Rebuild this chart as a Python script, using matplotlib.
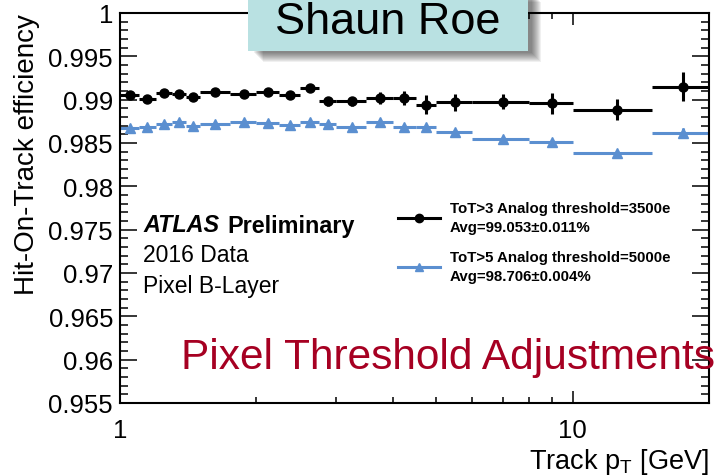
import matplotlib
matplotlib.use('Agg')
import matplotlib.pyplot as plt
from matplotlib.patches import Rectangle
from matplotlib.lines import Line2D

plt.rcParams['font.family'] = ['Liberation Sans', 'DejaVu Sans']

# track pT bin edges [GeV]
pt_edges = [1, 1.1, 1.2, 1.3, 1.4, 1.5, 1.75, 2, 2.25, 2.5, 2.75,
            3, 3.5, 4, 4.5, 5, 6, 8, 10, 15, 20]

# ToT>3, analog threshold 3500e
eff_tot3 = [0.99054, 0.99010, 0.99077, 0.99065, 0.99034, 0.99092, 0.99062,
            0.99085, 0.99054, 0.99135, 0.98981, 0.98981, 0.99019, 0.99016,
            0.98942, 0.98970, 0.98977, 0.98958, 0.98884, 0.99150]
err_tot3 = [0.0002, 0.0002, 0.0002, 0.0002, 0.0002, 0.0002, 0.0002,
            0.0002, 0.0002, 0.0003, 0.0005, 0.0005, 0.0007, 0.0008,
            0.0011, 0.0010, 0.0009, 0.0012, 0.0012, 0.0017]

# ToT>5, analog threshold 5000e
eff_tot5 = [0.98670, 0.98681, 0.98716, 0.98739, 0.98700, 0.98719, 0.98739,
            0.98727, 0.98711, 0.98746, 0.98719, 0.98681, 0.98739, 0.98681,
            0.98681, 0.98630, 0.98543, 0.98508, 0.98385, 0.98615]
err_tot5 = [0.0001, 0.0001, 0.0001, 0.0001, 0.0001, 0.0001, 0.0001,
            0.0001, 0.0001, 0.0001, 0.0001, 0.0001, 0.0001, 0.0001,
            0.0001, 0.0002, 0.0002, 0.0004, 0.0004, 0.0006]

label_tot3 = 'ToT>3 Analog threshold=3500e\nAvg=99.053\u00b10.011%'
label_tot5 = 'ToT>5 Analog threshold=5000e\nAvg=98.706\u00b10.004%'

centers = [(lo + hi) / 2 for lo, hi in zip(pt_edges[:-1], pt_edges[1:])]
xlo = [c - lo for c, lo in zip(centers, pt_edges[:-1])]
xhi = [hi - c for c, hi in zip(centers, pt_edges[1:])]

W, H = 714, 477
fig = plt.figure(figsize=(W / 100, H / 100), dpi=100)
ax = fig.add_axes([120 / W, 1 - 404 / H, 589 / W, 390 / H])

blue = '#5b8fd0'
ax.errorbar(centers, eff_tot5, yerr=err_tot5, xerr=[xlo, xhi], fmt='^',
            color=blue, ms=6.5, elinewidth=2.2, capsize=0)
ax.errorbar(centers, eff_tot3, yerr=err_tot3, xerr=[xlo, xhi], fmt='o',
            color='black', ms=6.5, elinewidth=2.2, capsize=0)

ax.set_xscale('log')
ax.set_xlim(1, 20)
ax.set_ylim(0.955, 1.0)
ax.set_xticks([1, 10])
ax.set_xticklabels(['1', '10'])
ax.set_xticks([2, 3, 4, 5, 6, 7, 8, 9], minor=True)
ax.xaxis.set_minor_formatter(plt.NullFormatter())
yt = [0.955, 0.96, 0.965, 0.97, 0.975, 0.98, 0.985, 0.99, 0.995, 1.0]
ax.set_yticks(yt)
ax.set_yticklabels(['0.955', '0.96', '0.965', '0.97', '0.975', '0.98',
                    '0.985', '0.99', '0.995', '1'])
ax.set_yticks([0.955 + 0.001 * i for i in range(46)], minor=True)

ax.tick_params(which='both', direction='in', top=True, right=True,
               width=1.1, labelsize=18.5)
ax.tick_params(axis='y', which='major', length=12.2, pad=5)
ax.tick_params(axis='y', which='minor', length=6.1)
ax.tick_params(axis='x', which='major', length=8.6, pad=11)
ax.tick_params(axis='x', which='minor', length=4.3)
for s in ax.spines.values():
    s.set_linewidth(1.5)

ax.set_xlabel('Track p$_{\\mathregular{T}}$ [GeV]', fontsize=19.5, loc='right',
              labelpad=2.5)
ax.set_ylabel('Hit-On-Track efficiency', fontsize=20, loc='top', labelpad=6)

handles = [Line2D([], [], color='black', marker='o', ms=6, lw=2.2),
           Line2D([], [], color=blue, marker='^', ms=6, lw=2.2)]
leg = ax.legend(handles, [label_tot3, label_tot5], loc='upper left',
                bbox_to_anchor=(398 / W, 1 - 202 / H),
                bbox_transform=fig.transFigure, frameon=False,
                borderpad=0, borderaxespad=0, handlelength=2.8,
                handletextpad=0.65, labelspacing=1.1,
                prop={'weight': 'bold', 'size': 10.8})
for t in leg.get_texts():
    t.set_linespacing(1.45)

fig.text(143 / W, 1 - 226 / H, 'ATLAS', fontsize=16.8, weight='bold',
         style='italic', va='center')
fig.text(227 / W, 1 - 226 / H, 'Preliminary', fontsize=16.8, weight='bold',
         va='center')
fig.text(143 / W, 1 - 255 / H, '2016 Data', fontsize=16.5, va='center')
fig.text(143 / W, 1 - 286 / H, 'Pixel B-Layer', fontsize=16.5, va='center')

fig.text(181 / W, 1 - 358 / H, 'Pixel Threshold Adjustments', fontsize=30.5,
         color='#a60022', va='center')

# name tag with drop shadow
for k in range(10):
    fig.add_artist(Rectangle(((254 + k) / W, 1 - (54 + k) / H),
                             278 / W, 60 / H, transform=fig.transFigure,
                             facecolor='black', alpha=0.06, edgecolor='none',
                             zorder=9))
fig.add_artist(Rectangle((248 / W, 1 - 52 / H), 280 / W, 60 / H,
                         transform=fig.transFigure, facecolor='#b9e1e2',
                         edgecolor='none', zorder=10))
fig.text(388 / W, 1 - 34 / H, 'Shaun Roe', fontsize=32.5, ha='center',
         va='baseline', zorder=11)

fig.savefig('out.png', dpi=100)
